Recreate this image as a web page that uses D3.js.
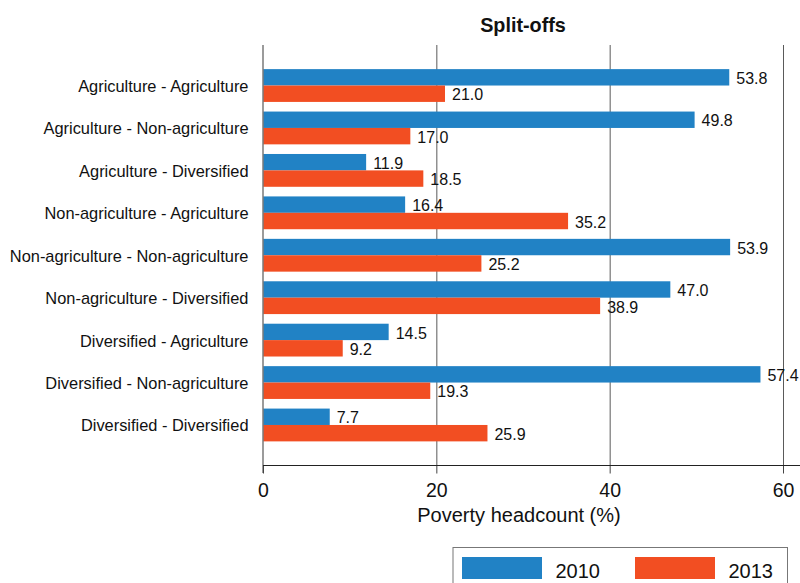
<!DOCTYPE html>
<html>
<head>
<meta charset="utf-8">
<script src="https://cdn.jsdelivr.net/npm/d3@7"></script>
<style>
  html, body { margin: 0; padding: 0; background: #fff; }
  svg { display: block; font-family: "Liberation Sans", Arial, Helvetica, sans-serif; }
</style>
</head>
<body>
<div id="chart"></div>
<script>
const categories = [
  "Agriculture - Agriculture",
  "Agriculture - Non-agriculture",
  "Agriculture - Diversified",
  "Non-agriculture - Agriculture",
  "Non-agriculture - Non-agriculture",
  "Non-agriculture - Diversified",
  "Diversified - Agriculture",
  "Diversified - Non-agriculture",
  "Diversified - Diversified"
];
const seriesNames = ["2010", "2013"];
const values2010 = [53.8, 49.8, 11.9, 16.4, 53.9, 47.0, 14.5, 57.4, 7.7];
const values2013 = [21.0, 17.0, 18.5, 35.2, 25.2, 38.9, 9.2, 19.3, 25.9];
const xTicks = [0, 20, 40, 60];
const colors = ["#2182c5", "#f24e22"];

const W = 800, H = 583;
const svg = d3.select("#chart").append("svg").attr("width", W).attr("height", H);

const plotTop = 45, plotBottom = 465.5;
const x = d3.scaleLinear().domain([0, 60]).range([263, 783]);
const y = d3.scaleBand().domain(categories).range([plotTop, plotBottom]).paddingOuter(0.455).paddingInner(0);
const barH = 16.4;

// gridlines
svg.append("g").selectAll("line").data(xTicks.filter(t => t > 0)).join("line")
  .attr("x1", d => x(d) + 0.5).attr("x2", d => x(d) + 0.5)
  .attr("y1", plotTop).attr("y2", plotBottom)
  .attr("stroke", "#5a5a5a").attr("stroke-width", 1);

// bars
const series = [values2010, values2013];
series.forEach((vals, si) => {
  const g = svg.append("g");
  g.selectAll("rect").data(categories).join("rect")
    .attr("x", x(0))
    .attr("y", c => y(c) + y.bandwidth() / 2 - barH + si * barH)
    .attr("width", (c, i) => x(vals[i]) - x(0))
    .attr("height", barH)
    .attr("fill", colors[si]);
  g.selectAll("text").data(categories).join("text")
    .attr("x", (c, i) => x(vals[i]) + 7)
    .attr("y", c => y(c) + y.bandwidth() / 2 - barH + si * barH + barH - 1.5)
    .attr("font-size", 16).attr("fill", "#111")
    .text((c, i) => vals[i].toFixed(1));
});

// left axis line
svg.append("line").attr("x1", x(0)).attr("x2", x(0)).attr("y1", plotTop).attr("y2", 473)
  .attr("stroke", "#7a7a7a").attr("stroke-width", 1.5);

// bottom axis
const xAxis = d3.axisBottom(x).tickValues(xTicks).tickSize(8).tickPadding(10).tickFormat(d3.format("d"));
const ax = svg.append("g").attr("transform", `translate(0,${plotBottom})`).call(xAxis);
ax.select(".domain").remove();
ax.append("line").attr("x1", x(0)).attr("x2", W).attr("y1", 0).attr("y2", 0).attr("stroke", "#222");
ax.selectAll(".tick line").attr("stroke", "#444");
ax.selectAll(".tick text").attr("font-size", 19.5).attr("fill", "#111")
  .attr("font-family", "\"Liberation Sans\", Arial, sans-serif");

// category labels
svg.append("g").selectAll("text").data(categories).join("text")
  .attr("x", 248.5).attr("y", c => y(c) + y.bandwidth() / 2 + 6.5)
  .attr("text-anchor", "end").attr("font-size", 16.4).attr("fill", "#111")
  .text(c => c);

// title
svg.append("text").attr("x", 523).attr("y", 32).attr("text-anchor", "middle")
  .attr("font-size", 19.8).attr("font-weight", "bold").attr("fill", "#111").text("Split-offs");

// axis title
svg.append("text").attr("x", 519).attr("y", 521.5).attr("text-anchor", "middle")
  .attr("font-size", 20).attr("fill", "#111").text("Poverty headcount (%)");

// legend
const lg = svg.append("g");
lg.append("rect").attr("x", 453).attr("y", 547.5).attr("width", 334.5).attr("height", 50)
  .attr("fill", "#fff").attr("stroke", "#777").attr("stroke-width", 1);
const lx = [462, 635];
seriesNames.forEach((s, i) => {
  lg.append("rect").attr("x", lx[i]).attr("y", 557).attr("width", 80).attr("height", 22).attr("fill", colors[i]);
  lg.append("text").attr("x", lx[i] + 93.5).attr("y", 577.5).attr("font-size", 20).attr("fill", "#111").text(s);
});
</script>
</body>
</html>
